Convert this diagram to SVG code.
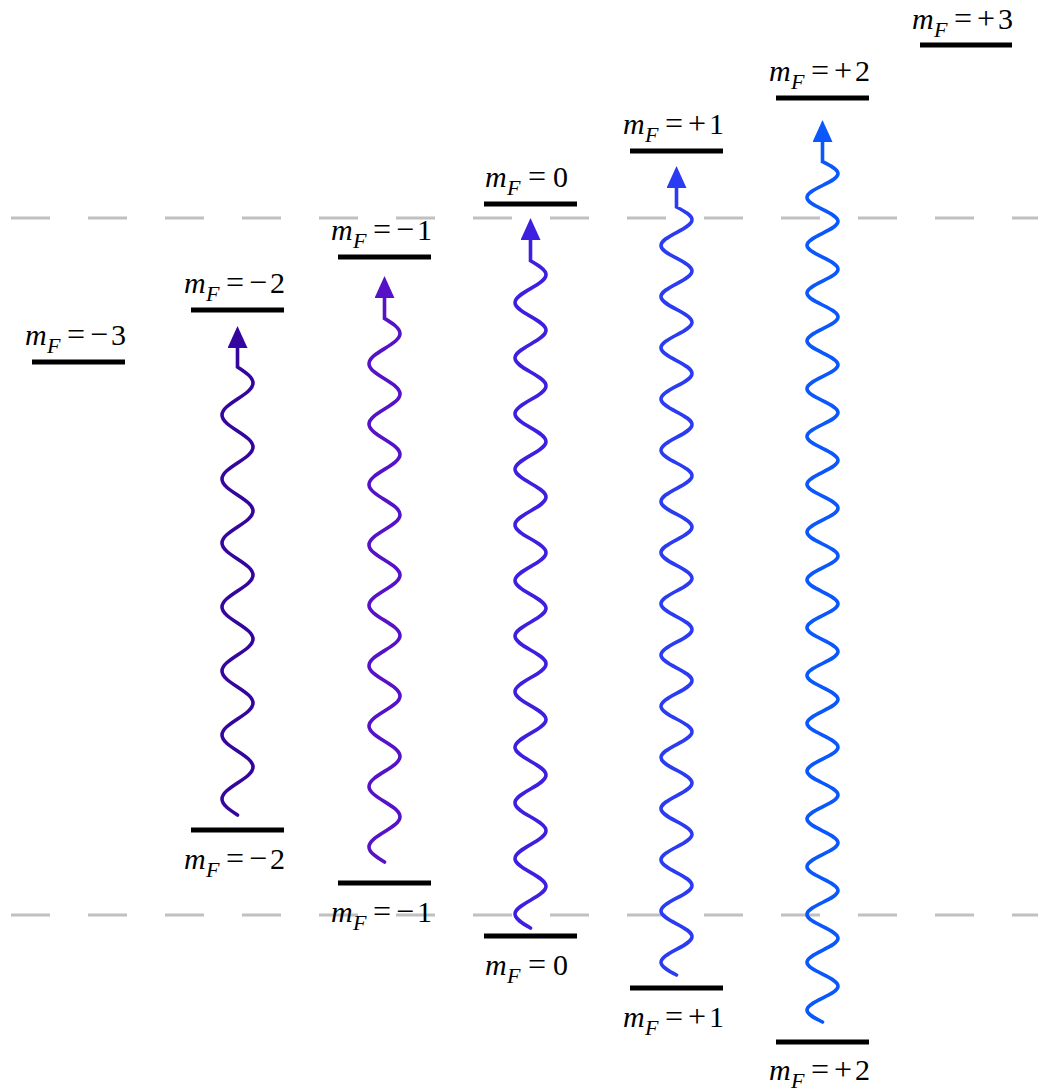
<svg xmlns="http://www.w3.org/2000/svg" width="1038" height="1091" viewBox="0 0 1038 1091">
<style>
.lvl{stroke:#000;stroke-width:5}
.dash{stroke:#c0c0c0;stroke-width:3;stroke-dasharray:39 38}
.lbl{font-family:"Liberation Serif","Times New Roman",serif;font-size:30px;fill:#000}
.it{font-style:italic}
.sub{font-size:22px;font-style:italic}
.op{font-size:32px}
.wave{fill:none;stroke-width:3.6;stroke-linecap:round}
</style>
<defs>
<marker id="a1" markerUnits="userSpaceOnUse" markerWidth="22" markerHeight="20" viewBox="0 0 22 20" refX="0" refY="10" orient="auto"><path d="M0 0L22 10L0 20z" fill="#34069f"/></marker>
<marker id="a2" markerUnits="userSpaceOnUse" markerWidth="22" markerHeight="20" viewBox="0 0 22 20" refX="0" refY="10" orient="auto"><path d="M0 0L22 10L0 20z" fill="#5512c6"/></marker>
<marker id="a3" markerUnits="userSpaceOnUse" markerWidth="22" markerHeight="20" viewBox="0 0 22 20" refX="0" refY="10" orient="auto"><path d="M0 0L22 10L0 20z" fill="#3d1fe0"/></marker>
<marker id="a4" markerUnits="userSpaceOnUse" markerWidth="22" markerHeight="20" viewBox="0 0 22 20" refX="0" refY="10" orient="auto"><path d="M0 0L22 10L0 20z" fill="#2b3bf2"/></marker>
<marker id="a5" markerUnits="userSpaceOnUse" markerWidth="22" markerHeight="20" viewBox="0 0 22 20" refX="0" refY="10" orient="auto"><path d="M0 0L22 10L0 20z" fill="#0a57fb"/></marker>
</defs>
<g id="guides">
<line class="dash" x1="11" y1="218" x2="1038" y2="218"/>
<line class="dash" x1="11" y1="915" x2="1038" y2="915"/>
</g>
<g id="connectors">
<path id="t-m2" class="wave" stroke="#34069f" marker-end="url(#a1)" d="M237.5 815c-7.94-5.22-15.5-10.21-15.5-16
s7.56-10.78 15.5-16s15.5-10.21 15.5-16s-7.56-10.78-15.5-16s-15.5-10.21-15.5-16
s7.56-10.78 15.5-16s15.5-10.21 15.5-16s-7.56-10.78-15.5-16s-15.5-10.21-15.5-16
s7.56-10.78 15.5-16s15.5-10.21 15.5-16s-7.56-10.78-15.5-16s-15.5-10.21-15.5-16
s7.56-10.78 15.5-16s15.5-10.21 15.5-16s-7.56-10.78-15.5-16s-15.5-10.21-15.5-16
s7.56-10.78 15.5-16s15.5-10.21 15.5-16s-7.56-10.78-15.5-16s-15.5-10.21-15.5-16
s7.56-10.78 15.5-16s15.5-10.21 15.5-16s-7.56-10.78-15.5-16s-15.5-10.21-15.5-16
s7.56-10.78 15.5-16s15.5-10.21 15.5-16s-7.56-10.78-15.5-16v-19"/>
<path id="t-m1" class="wave" stroke="#5512c6" marker-end="url(#a2)" d="M384.5 862c-7.94-4.92-15.5-9.64-15.5-15.1
s7.56-10.18 15.5-15.1s15.5-9.64 15.5-15.1s-7.56-10.18-15.5-15.1s-15.5-9.64-15.5-15.1
s7.56-10.18 15.5-15.1s15.5-9.64 15.5-15.1s-7.56-10.18-15.5-15.1s-15.5-9.64-15.5-15.1
s7.56-10.18 15.5-15.1s15.5-9.64 15.5-15.1s-7.56-10.18-15.5-15.1s-15.5-9.64-15.5-15.1
s7.56-10.18 15.5-15.1s15.5-9.64 15.5-15.1s-7.56-10.18-15.5-15.1s-15.5-9.64-15.5-15.1
s7.56-10.18 15.5-15.1s15.5-9.64 15.5-15.1s-7.56-10.18-15.5-15.1s-15.5-9.64-15.5-15.1
s7.56-10.18 15.5-15.1s15.5-9.64 15.5-15.1s-7.56-10.18-15.5-15.1s-15.5-9.64-15.5-15.1
s7.56-10.18 15.5-15.1s15.5-9.64 15.5-15.1s-7.56-10.18-15.5-15.1s-15.5-9.64-15.5-15.1
s7.56-10.18 15.5-15.1s15.5-9.64 15.5-15.1s-7.56-10.18-15.5-15.1s-15.5-9.64-15.5-15.1
s7.56-10.18 15.5-15.1s15.5-9.64 15.5-15.1s-7.56-10.18-15.5-15.1v-20.4"/>
<path id="t-0" class="wave" stroke="#3d1fe0" marker-end="url(#a3)" d="M530.5 928c-7.94-4.53-15.5-8.87-15.5-13.9
s7.56-9.37 15.5-13.9s15.5-8.87 15.5-13.9s-7.56-9.37-15.5-13.9s-15.5-8.87-15.5-13.9
s7.56-9.37 15.5-13.9s15.5-8.87 15.5-13.9s-7.56-9.37-15.5-13.9s-15.5-8.87-15.5-13.9
s7.56-9.37 15.5-13.9s15.5-8.87 15.5-13.9s-7.56-9.37-15.5-13.9s-15.5-8.87-15.5-13.9
s7.56-9.37 15.5-13.9s15.5-8.87 15.5-13.9s-7.56-9.37-15.5-13.9s-15.5-8.87-15.5-13.9
s7.56-9.37 15.5-13.9s15.5-8.87 15.5-13.9s-7.56-9.37-15.5-13.9s-15.5-8.87-15.5-13.9
s7.56-9.37 15.5-13.9s15.5-8.87 15.5-13.9s-7.56-9.37-15.5-13.9s-15.5-8.87-15.5-13.9
s7.56-9.37 15.5-13.9s15.5-8.87 15.5-13.9s-7.56-9.37-15.5-13.9s-15.5-8.87-15.5-13.9
s7.56-9.37 15.5-13.9s15.5-8.87 15.5-13.9s-7.56-9.37-15.5-13.9s-15.5-8.87-15.5-13.9
s7.56-9.37 15.5-13.9s15.5-8.87 15.5-13.9s-7.56-9.37-15.5-13.9s-15.5-8.87-15.5-13.9
s7.56-9.37 15.5-13.9s15.5-8.87 15.5-13.9s-7.56-9.37-15.5-13.9s-15.5-8.87-15.5-13.9
s7.56-9.37 15.5-13.9s15.5-8.87 15.5-13.9s-7.56-9.37-15.5-13.9s-15.5-8.87-15.5-13.9
s7.56-9.37 15.5-13.9s15.5-8.87 15.5-13.9s-7.56-9.37-15.5-13.9v-20.8"/>
<path id="t-p1" class="wave" stroke="#2b3bf2" marker-end="url(#a4)" d="M676.5 975c-7.94-4.17-15.5-8.17-15.5-12.8
s7.56-8.63 15.5-12.8s15.5-8.17 15.5-12.8s-7.56-8.63-15.5-12.8s-15.5-8.17-15.5-12.8
s7.56-8.63 15.5-12.8s15.5-8.17 15.5-12.8s-7.56-8.63-15.5-12.8s-15.5-8.17-15.5-12.8
s7.56-8.63 15.5-12.8s15.5-8.17 15.5-12.8s-7.56-8.63-15.5-12.8s-15.5-8.17-15.5-12.8
s7.56-8.63 15.5-12.8s15.5-8.17 15.5-12.8s-7.56-8.63-15.5-12.8s-15.5-8.17-15.5-12.8
s7.56-8.63 15.5-12.8s15.5-8.17 15.5-12.8s-7.56-8.63-15.5-12.8s-15.5-8.17-15.5-12.8
s7.56-8.63 15.5-12.8s15.5-8.17 15.5-12.8s-7.56-8.63-15.5-12.8s-15.5-8.17-15.5-12.8
s7.56-8.63 15.5-12.8s15.5-8.17 15.5-12.8s-7.56-8.63-15.5-12.8s-15.5-8.17-15.5-12.8
s7.56-8.63 15.5-12.8s15.5-8.17 15.5-12.8s-7.56-8.63-15.5-12.8s-15.5-8.17-15.5-12.8
s7.56-8.63 15.5-12.8s15.5-8.17 15.5-12.8s-7.56-8.63-15.5-12.8s-15.5-8.17-15.5-12.8
s7.56-8.63 15.5-12.8s15.5-8.17 15.5-12.8s-7.56-8.63-15.5-12.8s-15.5-8.17-15.5-12.8
s7.56-8.63 15.5-12.8s15.5-8.17 15.5-12.8s-7.56-8.63-15.5-12.8s-15.5-8.17-15.5-12.8
s7.56-8.63 15.5-12.8s15.5-8.17 15.5-12.8s-7.56-8.63-15.5-12.8s-15.5-8.17-15.5-12.8
s7.56-8.63 15.5-12.8s15.5-8.17 15.5-12.8s-7.56-8.63-15.5-12.8s-15.5-8.17-15.5-12.8
s7.56-8.63 15.5-12.8s15.5-8.17 15.5-12.8s-7.56-8.63-15.5-12.8s-15.5-8.17-15.5-12.8
s7.56-8.63 15.5-12.8s15.5-8.17 15.5-12.8s-7.56-8.63-15.5-12.8v-19"/>
<path id="t-p2" class="wave" stroke="#0a57fb" marker-end="url(#a5)" d="M822.5 1022c-7.94-3.9-15.5-7.63-15.5-11.95
s7.56-8.05 15.5-11.95s15.5-7.63 15.5-11.95s-7.56-8.05-15.5-11.95s-15.5-7.63-15.5-11.95
s7.56-8.05 15.5-11.95s15.5-7.63 15.5-11.95s-7.56-8.05-15.5-11.95s-15.5-7.63-15.5-11.95
s7.56-8.05 15.5-11.95s15.5-7.63 15.5-11.95s-7.56-8.05-15.5-11.95s-15.5-7.63-15.5-11.95
s7.56-8.05 15.5-11.95s15.5-7.63 15.5-11.95s-7.56-8.05-15.5-11.95s-15.5-7.63-15.5-11.95
s7.56-8.05 15.5-11.95s15.5-7.63 15.5-11.95s-7.56-8.05-15.5-11.95s-15.5-7.63-15.5-11.95
s7.56-8.05 15.5-11.95s15.5-7.63 15.5-11.95s-7.56-8.05-15.5-11.95s-15.5-7.63-15.5-11.95
s7.56-8.05 15.5-11.95s15.5-7.63 15.5-11.95s-7.56-8.05-15.5-11.95s-15.5-7.63-15.5-11.95
s7.56-8.05 15.5-11.95s15.5-7.63 15.5-11.95s-7.56-8.05-15.5-11.95s-15.5-7.63-15.5-11.95
s7.56-8.05 15.5-11.95s15.5-7.63 15.5-11.95s-7.56-8.05-15.5-11.95s-15.5-7.63-15.5-11.95
s7.56-8.05 15.5-11.95s15.5-7.63 15.5-11.95s-7.56-8.05-15.5-11.95s-15.5-7.63-15.5-11.95
s7.56-8.05 15.5-11.95s15.5-7.63 15.5-11.95s-7.56-8.05-15.5-11.95s-15.5-7.63-15.5-11.95
s7.56-8.05 15.5-11.95s15.5-7.63 15.5-11.95s-7.56-8.05-15.5-11.95s-15.5-7.63-15.5-11.95
s7.56-8.05 15.5-11.95s15.5-7.63 15.5-11.95s-7.56-8.05-15.5-11.95s-15.5-7.63-15.5-11.95
s7.56-8.05 15.5-11.95s15.5-7.63 15.5-11.95s-7.56-8.05-15.5-11.95s-15.5-7.63-15.5-11.95
s7.56-8.05 15.5-11.95s15.5-7.63 15.5-11.95s-7.56-8.05-15.5-11.95s-15.5-7.63-15.5-11.95
s7.56-8.05 15.5-11.95s15.5-7.63 15.5-11.95s-7.56-8.05-15.5-11.95s-15.5-7.63-15.5-11.95
s7.56-8.05 15.5-11.95s15.5-7.63 15.5-11.95s-7.56-8.05-15.5-11.95s-15.5-7.63-15.5-11.95
s7.56-8.05 15.5-11.95s15.5-7.63 15.5-11.95s-7.56-8.05-15.5-11.95v-19.6"/>
</g>
<g id="upper-m3"><line class="lvl" x1="32" y1="362" x2="125" y2="362"/><text class="lbl" y="345"><tspan class="it" x="25">m</tspan><tspan class="sub" x="47" dy="8">F</tspan><tspan class="op" x="67" dy="-8">=</tspan><tspan class="op" x="90">−</tspan><tspan x="111">3</tspan></text></g>
<g id="upper-m2"><line class="lvl" x1="191" y1="310" x2="284" y2="310"/><text class="lbl" y="293"><tspan class="it" x="184">m</tspan><tspan class="sub" x="206" dy="8">F</tspan><tspan class="op" x="226" dy="-8">=</tspan><tspan class="op" x="249">−</tspan><tspan x="270">2</tspan></text></g>
<g id="upper-m1"><line class="lvl" x1="338" y1="257" x2="431" y2="257"/><text class="lbl" y="240"><tspan class="it" x="331">m</tspan><tspan class="sub" x="353" dy="8">F</tspan><tspan class="op" x="373" dy="-8">=</tspan><tspan class="op" x="396">−</tspan><tspan x="417">1</tspan></text></g>
<g id="upper-0"><line class="lvl" x1="484" y1="204" x2="577" y2="204"/><text class="lbl" y="187"><tspan class="it" x="485">m</tspan><tspan class="sub" x="507" dy="8">F</tspan><tspan class="op" x="528" dy="-8">=</tspan><tspan x="553">0</tspan></text></g>
<g id="upper-p1"><line class="lvl" x1="630" y1="151" x2="723" y2="151"/><text class="lbl" y="134"><tspan class="it" x="623">m</tspan><tspan class="sub" x="645" dy="8">F</tspan><tspan class="op" x="665" dy="-8">=</tspan><tspan class="op" x="688">+</tspan><tspan x="709">1</tspan></text></g>
<g id="upper-p2"><line class="lvl" x1="776" y1="98" x2="869" y2="98"/><text class="lbl" y="81"><tspan class="it" x="769">m</tspan><tspan class="sub" x="791" dy="8">F</tspan><tspan class="op" x="811" dy="-8">=</tspan><tspan class="op" x="834">+</tspan><tspan x="855">2</tspan></text></g>
<g id="upper-p3"><line class="lvl" x1="920" y1="45" x2="1012" y2="45"/><text class="lbl" y="29"><tspan class="it" x="912">m</tspan><tspan class="sub" x="934" dy="8">F</tspan><tspan class="op" x="954" dy="-8">=</tspan><tspan class="op" x="977">+</tspan><tspan x="998">3</tspan></text></g>
<g id="lower-m2"><line class="lvl" x1="191" y1="830" x2="284" y2="830"/><text class="lbl" y="869"><tspan class="it" x="184">m</tspan><tspan class="sub" x="206" dy="8">F</tspan><tspan class="op" x="226" dy="-8">=</tspan><tspan class="op" x="249">−</tspan><tspan x="270">2</tspan></text></g>
<g id="lower-m1"><line class="lvl" x1="338" y1="883" x2="431" y2="883"/><text class="lbl" y="922"><tspan class="it" x="331">m</tspan><tspan class="sub" x="353" dy="8">F</tspan><tspan class="op" x="373" dy="-8">=</tspan><tspan class="op" x="396">−</tspan><tspan x="417">1</tspan></text></g>
<g id="lower-0"><line class="lvl" x1="484" y1="936" x2="577" y2="936"/><text class="lbl" y="975"><tspan class="it" x="485">m</tspan><tspan class="sub" x="507" dy="8">F</tspan><tspan class="op" x="528" dy="-8">=</tspan><tspan x="553">0</tspan></text></g>
<g id="lower-p1"><line class="lvl" x1="630" y1="988" x2="723" y2="988"/><text class="lbl" y="1027"><tspan class="it" x="623">m</tspan><tspan class="sub" x="645" dy="8">F</tspan><tspan class="op" x="665" dy="-8">=</tspan><tspan class="op" x="688">+</tspan><tspan x="709">1</tspan></text></g>
<g id="lower-p2"><line class="lvl" x1="776" y1="1042" x2="869" y2="1042"/><text class="lbl" y="1080"><tspan class="it" x="769">m</tspan><tspan class="sub" x="791" dy="8">F</tspan><tspan class="op" x="811" dy="-8">=</tspan><tspan class="op" x="834">+</tspan><tspan x="855">2</tspan></text></g>
</svg>
